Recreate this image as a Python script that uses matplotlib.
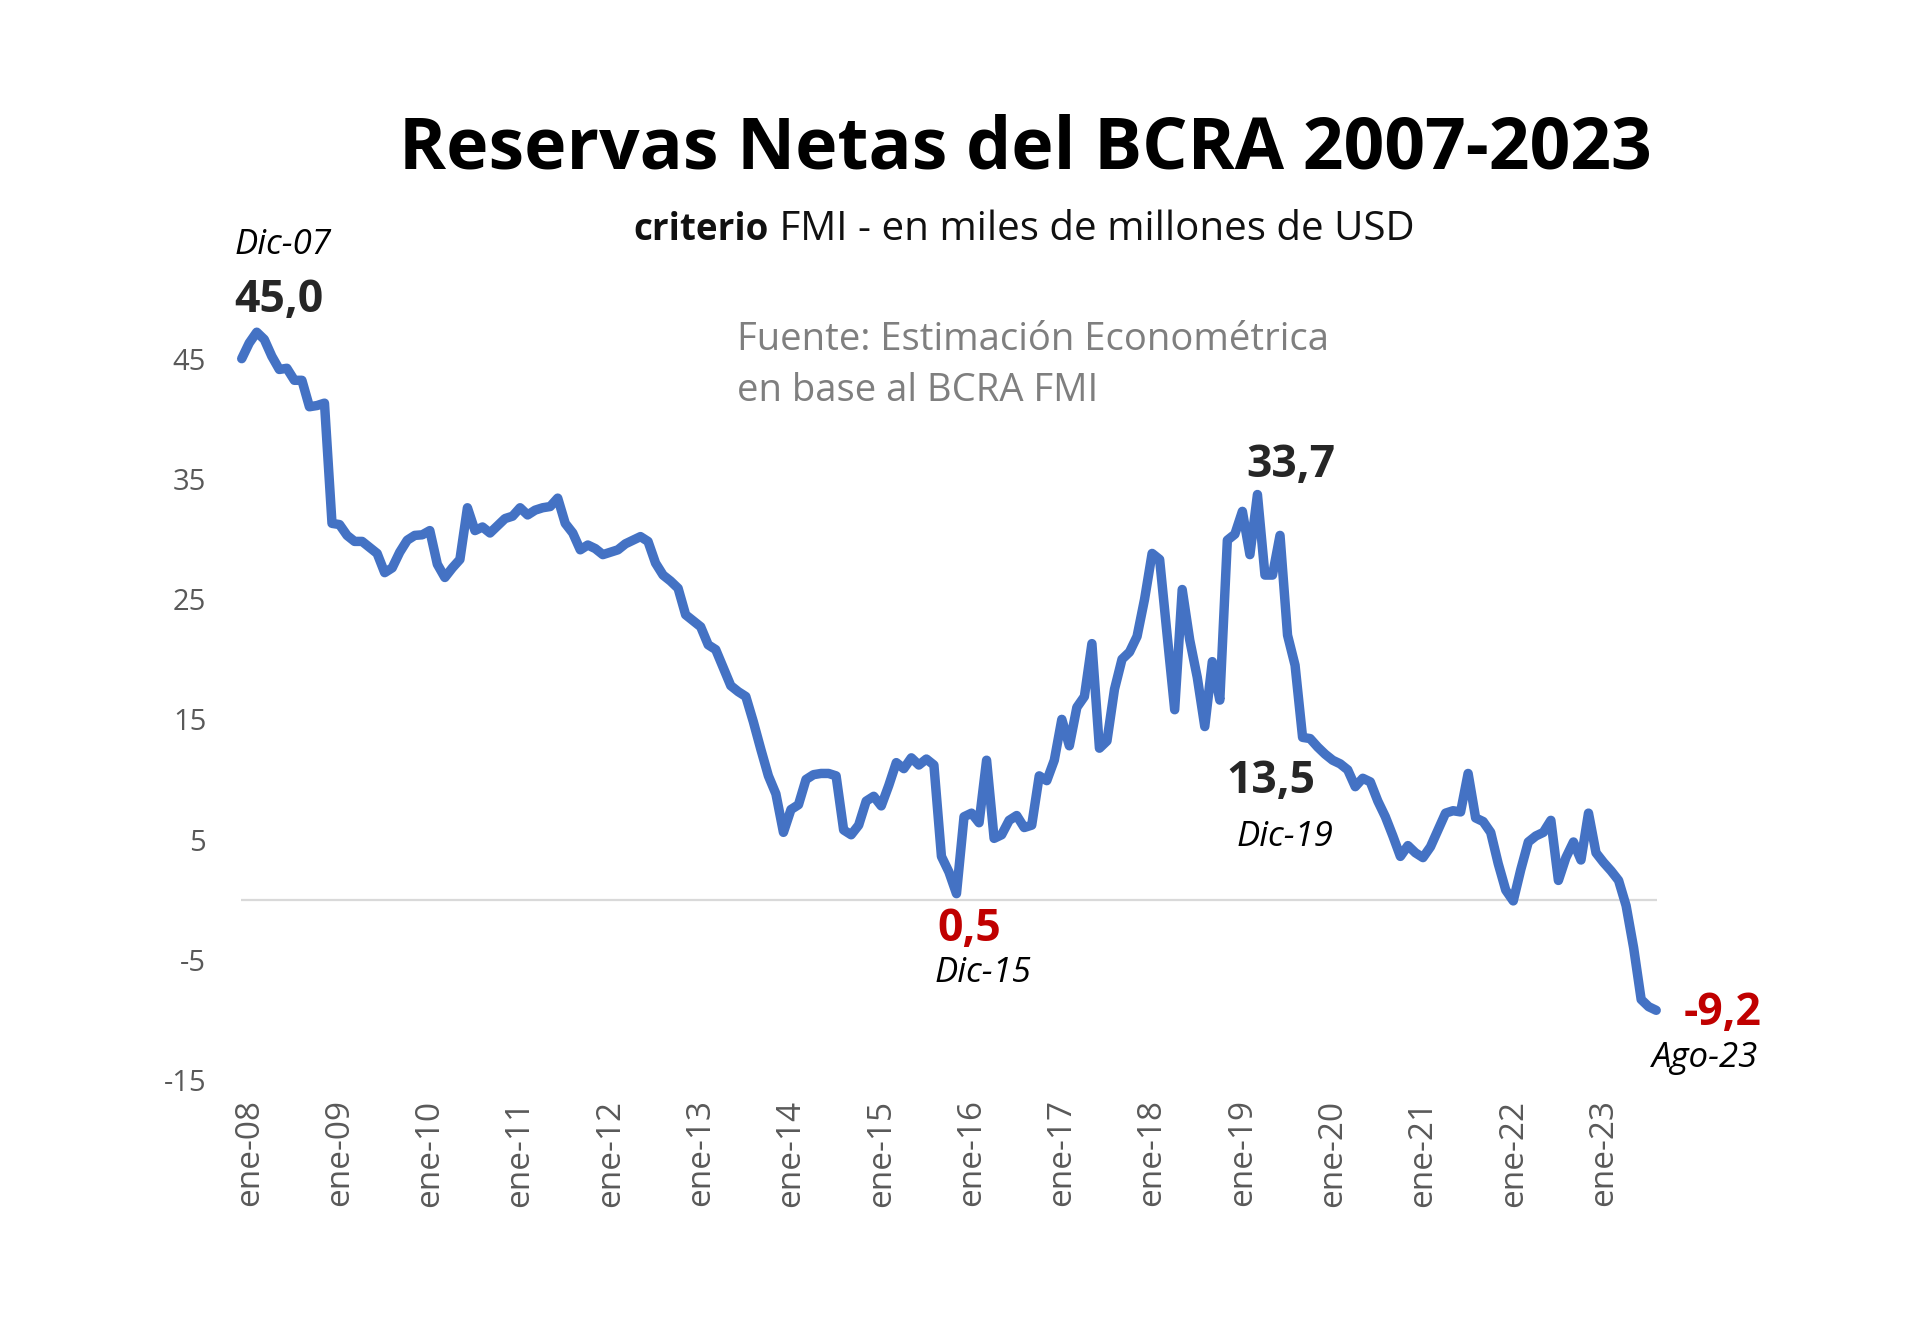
import matplotlib
matplotlib.use("Agg")
import matplotlib.pyplot as plt
import numpy as np

plt.rcParams['font.family'] = ['Open Sans', 'DejaVu Sans']

# reservas netas, mensual desde dic-07 hasta ago-23 (miles de millones USD)
reservas = [
    45.0, 46.3, 47.2, 46.6, 45.2, 44.1, 44.2, 43.2, 43.2, 41.0, 41.1, 41.3,
    31.3, 31.2, 30.3, 29.8, 29.8, 29.3, 28.8, 27.2, 27.6, 28.9, 29.9, 30.3,
    30.35, 30.7, 27.9, 26.8, 27.6, 28.3, 32.6, 30.7, 31.0, 30.5, 31.1, 31.7,
    31.9, 32.6, 32.0, 32.4, 32.6, 32.7, 33.4, 31.3, 30.5, 29.1, 29.5, 29.2,
    28.7, 28.9, 29.1, 29.6, 29.9, 30.2, 29.8, 28.0, 27.0, 26.5, 25.9, 23.7,
    23.2, 22.7, 21.2, 20.8, 19.3, 17.8, 17.3, 16.9, 14.8, 12.5, 10.3, 8.8,
    5.6, 7.5, 7.9, 10.0, 10.4, 10.5, 10.5, 10.3, 5.8, 5.4, 6.2, 8.2,
    8.6, 7.8, 9.5, 11.4, 10.9, 11.8, 11.2, 11.7, 11.2, 3.6, 2.3, 0.5,
    6.9, 7.2, 6.4, 11.6, 5.1, 5.4, 6.6, 7.0, 6.0, 6.2, 10.3, 9.9,
    11.6, 15.0, 12.8, 16.0, 16.9, 21.3, 12.6, 13.2, 17.5, 20.0, 20.6, 21.9,
    25.0, 28.8, 28.3, 22.0, 15.8, 25.8, 21.6, 18.5, 14.4, 19.8, 16.6, 29.9,
    30.4, 32.3, 28.7, 33.7, 27.0, 27.0, 30.3, 22.0, 19.5, 13.5, 13.4, 12.7,
    12.1, 11.6, 11.3, 10.8, 9.4, 10.1, 9.8, 8.2, 6.9, 5.3, 3.6, 4.5,
    3.9, 3.5, 4.4, 5.8, 7.2, 7.4, 7.3, 10.5, 6.8, 6.5, 5.6, 3.0,
    0.8, -0.1, 2.5, 4.8, 5.3, 5.6, 6.6, 1.6, 3.5, 4.8, 3.3, 7.2,
    3.9, 3.1, 2.4, 1.6, -0.5, -4.0, -8.3, -8.9, -9.2,
]
anios = ['08', '09', '10', '11', '12', '13', '14', '15', '16', '17',
         '18', '19', '20', '21', '22', '23']
y_ticks = [45, 35, 25, 15, 5, -5, -15]

vals = np.array(reservas)
idx = np.arange(len(vals))

fig = plt.figure(figsize=(19.2, 13.43), dpi=100)
ax = fig.add_axes([0.1255, 0.1958, 0.7375, 0.564])

ax.axhline(0, color='#d9d9d9', lw=1.6, zorder=1)
ax.plot(idx, vals, color='#4472C4', lw=6.8, solid_joinstyle='round',
        solid_capstyle='round', zorder=3, clip_on=False)

ax.set_xlim(-0.1, 188.1)
ax.set_ylim(-15, 48)
ax.set_yticks(y_ticks)
ax.set_yticklabels([str(t) for t in y_ticks])
ax.set_xticks([1 + 12 * i for i in range(len(anios))])
ax.set_xticklabels(['ene-' + a for a in anios], rotation=90)
ax.tick_params(axis='y', length=0, pad=25, labelsize=21, labelcolor='#595959')
ax.tick_params(axis='x', length=0, pad=14, labelsize=24, labelcolor='#595959')
for s in ax.spines.values():
    s.set_visible(False)

# titulos
fig.text(0.534, 0.889, 'Reservas Netas del BCRA 2007-2023', ha='center', va='center',
         fontsize=51.5, fontweight='bold', color='black')
fig.text(0.4005, 0.829, 'criterio', ha='right', va='center', fontsize=26.5,
         fontweight='bold', color='#111111')
fig.text(0.4005, 0.829, ' FMI - en miles de millones de USD', ha='left', va='center',
         fontsize=29, color='#111111')
fig.text(0.384, 0.7275, 'Fuente: Estimación Econométrica\nen base al BCRA FMI', ha='left',
         va='center', fontsize=27.5, color='#7f7f7f', linespacing=1.45)

# etiquetas de puntos
i_max = 135
i_min = int(np.argmin(vals[:120]))
i_dic19 = 141
i_fin = len(vals) - 1

def etiqueta(i, txt, off, color='#262626', size=32):
    ax.annotate(txt, xy=(idx[i], vals[i]), xytext=off, textcoords='offset points',
                ha='center', va='center', fontsize=size, color=color,
                fontweight='bold', annotation_clip=False)

def fecha(i, txt, off):
    ax.annotate(txt, xy=(idx[i], vals[i]), xytext=off, textcoords='offset points',
                ha='center', va='center', fontsize=25, style='italic', color='black',
                annotation_clip=False)

etiqueta(0, '45,0', (27, 42))
fecha(0, 'Dic-07', (30, 82))
etiqueta(i_max, '33,7', (24, 21))
etiqueta(i_dic19, '13,5', (-23, -32))
fecha(i_dic19, 'Dic-19', (-13, -72))
etiqueta(i_min, '0,5', (9, -26), color='#C00000')
fecha(i_min, 'Dic-15', (19, -57))
etiqueta(i_fin, '-9,2', (48, -2), color='#C00000')
fecha(i_fin, 'Ago-23', (35, -34))

fig.savefig('out.png', dpi=100, facecolor='white')
